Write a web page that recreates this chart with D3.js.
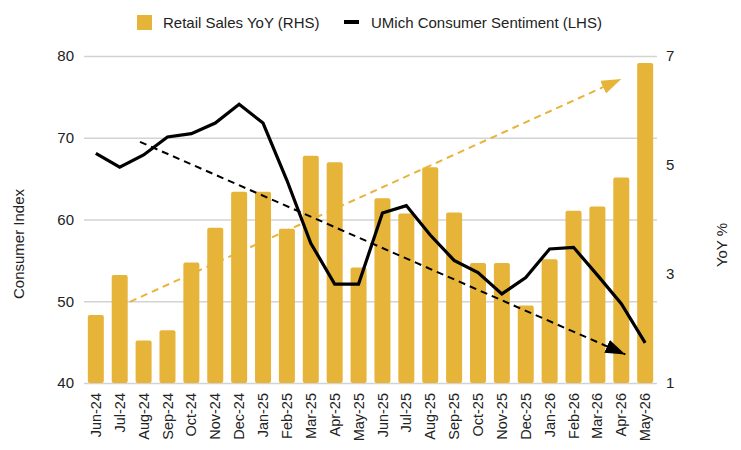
<!DOCTYPE html>
<html>
<head>
<meta charset="utf-8">
<style>
  body { margin: 0; background: #fff; }
  svg { font-family: "Liberation Sans", Arial, sans-serif; }
</style>
</head>
<body>
<script src="https://d3js.org/d3.v7.min.js"></script>
<svg id="chart" width="741" height="450"></svg>
<script>
const months = ["Jun-24","Jul-24","Aug-24","Sep-24","Oct-24","Nov-24","Dec-24","Jan-25","Feb-25","Mar-25","Apr-25","May-25",
                "Jun-25","Jul-25","Aug-25","Sep-25","Oct-25","Nov-25","Dec-25","Jan-26","Feb-26","Mar-26","Apr-26","May-26"]
const retailYoY = [2.25,2.98,1.78,1.97,3.21,3.85,4.51,4.51,3.83,5.17,5.05,3.12,
                   4.39,4.11,4.96,4.13,3.20,3.20,2.42,3.27,4.16,4.24,4.77,6.87]
const sentiment = [68.1,66.4,67.9,70.1,70.5,71.8,74.1,71.8,64.8,57.1,52.1,52.1,
                   60.8,61.7,58.1,55.0,53.5,50.9,52.9,56.4,56.6,53.2,49.7,44.9]
const leftTicks = [40,50,60,70,80]
const rightTicks = [1,3,5,7]
// trend arrows: [month, shift in bands, value]
const sentimentTrend = [["Aug-24",-0.15,69.5],["Apr-26",0.17,43.5]]
const retailTrend = [["Jul-24",0.43,2.49],["Apr-26",0.0,6.58]]

const gold = "#E7B43A"
const svg = d3.select("#chart")
const pl = 84, pr = 657, pt = 56, pb = 383

const x = d3.scaleBand().domain(months).range([pl, pr]).paddingInner(0.33).paddingOuter(0.16)
const yL = d3.scaleLinear().domain([40,80]).range([pb, pt])
const yR = d3.scaleLinear().domain([1,7]).range([pb, pt])
const cx = (m, s) => x(m) + x.bandwidth()/2 + s*x.step()

// grid lines from left axis
svg.append("g")
    .attr("transform", `translate(${pl},0)`)
    .call(d3.axisLeft(yL).tickValues(leftTicks).tickSize(-(pr-pl)).tickPadding(10))
    .call(g => g.select(".domain").remove())
    .call(g => g.selectAll(".tick line").attr("stroke","#d3d3d3").attr("stroke-width",1.3))
    .call(g => g.selectAll(".tick text").attr("font-size",15).attr("fill","#222").attr("font-family","Liberation Sans, Arial"))

svg.append("g")
    .attr("transform", `translate(${pr},0)`)
    .call(d3.axisRight(yR).tickValues(rightTicks).tickFormat(d3.format("d")).tickSize(0).tickPadding(9))
    .call(g => g.select(".domain").remove())
    .call(g => g.selectAll(".tick text").attr("font-size",15).attr("fill","#222").attr("font-family","Liberation Sans, Arial"))

// bars
svg.append("g").selectAll("rect")
    .data(months)
    .join("rect")
    .attr("x", d => x(d))
    .attr("width", x.bandwidth())
    .attr("y", (d,i) => yR(retailYoY[i]))
    .attr("height", (d,i) => pb - yR(retailYoY[i]))
    .attr("rx", 2)
    .attr("fill", gold)

// x axis labels
svg.append("g")
    .attr("transform", `translate(0,${pb})`)
    .call(d3.axisBottom(x).tickSize(0).tickPadding(0))
    .call(g => g.select(".domain").remove())
    .call(g => g.selectAll(".tick text")
        .attr("font-size",14.5).attr("fill","#222").attr("font-family","Liberation Sans, Arial")
        .attr("transform","rotate(-90)")
        .attr("text-anchor","end")
        .attr("x",-10).attr("y",0).attr("dy","0.35em"))

// arrow markers
const defs = svg.append("defs")
;[["arrowBlack","#000"],["arrowGold",gold]].forEach(([id,c]) => {
    defs.append("marker")
        .attr("id", id)
        .attr("viewBox","0 0 20 14")
        .attr("refX",20).attr("refY",7)
        .attr("markerUnits","userSpaceOnUse")
        .attr("markerWidth",20).attr("markerHeight",14)
        .attr("orient","auto")
        .append("path").attr("d","M0,0L20,7L0,14Z").attr("fill",c)
})

svg.append("line")
    .attr("x1", cx(retailTrend[0][0], retailTrend[0][1])).attr("y1", yR(retailTrend[0][2]))
    .attr("x2", cx(retailTrend[1][0], retailTrend[1][1])).attr("y2", yR(retailTrend[1][2]))
    .attr("stroke", gold).attr("stroke-width",2).attr("stroke-dasharray","7,5")
    .attr("marker-end","url(#arrowGold)")

svg.append("line")
    .attr("x1", cx(sentimentTrend[0][0], sentimentTrend[0][1])).attr("y1", yL(sentimentTrend[0][2]))
    .attr("x2", cx(sentimentTrend[1][0], sentimentTrend[1][1])).attr("y2", yL(sentimentTrend[1][2]))
    .attr("stroke", "#000").attr("stroke-width",2).attr("stroke-dasharray","7,5")
    .attr("marker-end","url(#arrowBlack)")

// sentiment line
svg.append("path")
    .datum(months)
    .attr("fill","none")
    .attr("stroke","#000")
    .attr("stroke-width",3.2)
    .attr("stroke-linejoin","miter")
    .attr("d", d3.line().x(d => cx(d,0)).y((d,i) => yL(sentiment[i])))

// axis titles
svg.append("text")
    .attr("transform","translate(24,244) rotate(-90)")
    .attr("text-anchor","middle")
    .attr("font-size",15).attr("fill","#222")
    .text("Consumer Index")
svg.append("text")
    .attr("transform","translate(727,245) rotate(-90)")
    .attr("text-anchor","middle")
    .attr("font-size",15).attr("fill","#222")
    .text("YoY %")

// legend
const lg = svg.append("g")
lg.append("rect").attr("x",137).attr("y",15).attr("width",15).attr("height",15).attr("fill",gold)
lg.append("text").attr("x",163).attr("y",28).attr("font-size",15).attr("fill","#222").text("Retail Sales YoY (RHS)")
lg.append("rect").attr("x",344).attr("y",20).attr("width",15).attr("height",4).attr("fill","#000")
lg.append("text").attr("x",371).attr("y",28).attr("font-size",15).attr("fill","#222").text("UMich Consumer Sentiment (LHS)")
</script>
</body>
</html>
